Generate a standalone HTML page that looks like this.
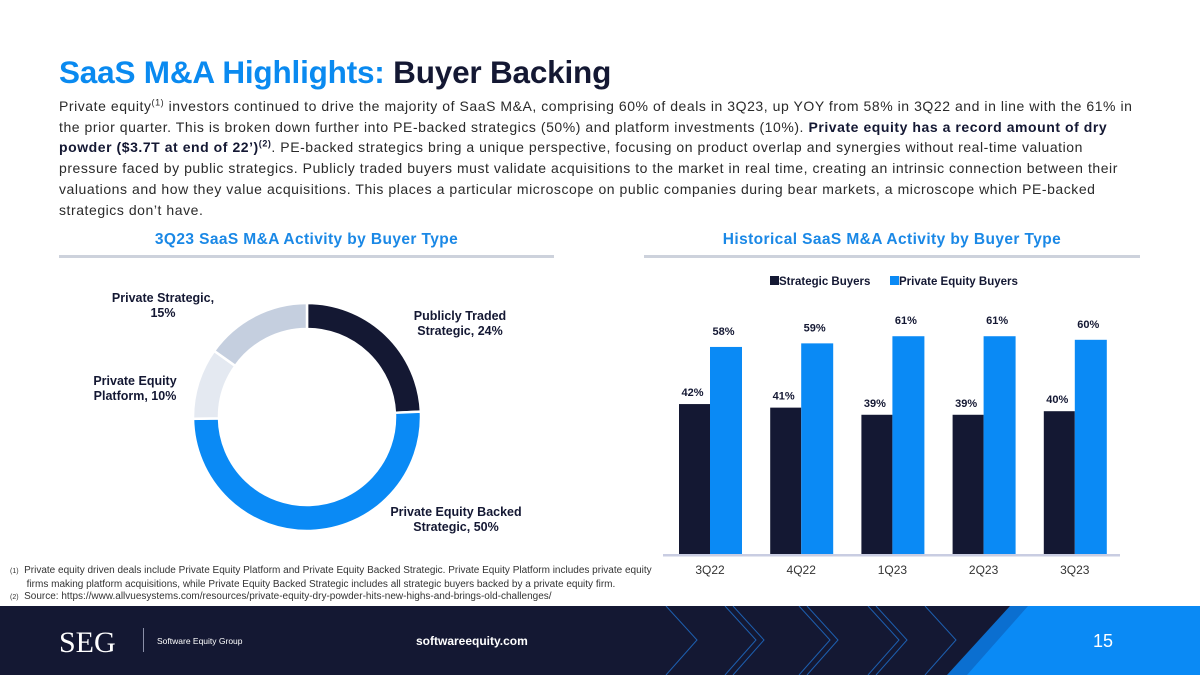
<!DOCTYPE html>
<html><head><meta charset="utf-8">
<style>
*{margin:0;padding:0;box-sizing:border-box}
body{width:1200px;height:675px;overflow:hidden;background:#fff;font-family:"Liberation Sans",Arial,sans-serif;position:relative;color:#141833}
.abs{position:absolute}
h1{position:absolute;left:59px;top:54px;font-size:31.5px;font-weight:bold;color:#0a8af0;letter-spacing:-0.2px;white-space:nowrap}
h1 span{color:#141833}
.body{position:absolute;left:59px;top:96px;width:1140px;font-size:14px;letter-spacing:0.55px;line-height:20.7px;color:#2a2a2a;white-space:nowrap}
.body sup{font-size:9px;line-height:0}
.sect{position:absolute;font-size:15.5px;letter-spacing:0.4px;font-weight:bold;color:#1a88e6;text-align:center}
.rule{position:absolute;height:3px;background:#cdd2dc}
.foot{position:absolute;left:10px;font-size:10px;color:#333;line-height:13px;white-space:nowrap}
</style></head><body>
<h1>SaaS M&amp;A Highlights: <span>Buyer Backing</span></h1>
<div class="body">Private equity<sup>(1)</sup> investors continued to drive the majority of SaaS M&amp;A, comprising 60% of deals in 3Q23, up YOY from 58% in 3Q22 and in line with the 61% in<br>the prior quarter. This is broken down further into PE-backed strategics (50%) and platform investments (10%). <b style="color:#141833">Private equity has a record amount of dry<br>powder ($3.7T at end of 22’)<sup>(2)</sup></b>. PE-backed strategics bring a unique perspective, focusing on product overlap and synergies without real-time valuation<br>pressure faced by public strategics. Publicly traded buyers must validate acquisitions to the market in real time, creating an intrinsic connection between their<br>valuations and how they value acquisitions. This places a particular microscope on public companies during bear markets, a microscope which PE-backed<br>strategics don’t have.</div>

<div class="sect" style="left:59px;width:495px;top:231px">3Q23 SaaS M&amp;A Activity by Buyer Type</div>
<div class="rule" style="left:59px;width:495px;top:255px"></div>
<div class="sect" style="left:644px;width:496px;top:231px">Historical SaaS M&amp;A Activity by Buyer Type</div>
<div class="rule" style="left:644px;width:496px;top:255px"></div>

<svg class="abs" style="left:0;top:0" width="1200" height="606">
<g id="donut"></g>
<g id="bars"></g>
</svg>

<div class="foot" style="top:564px"><span style="font-size:7px">(1)</span>&nbsp; Private equity driven deals include Private Equity Platform and Private Equity Backed Strategic. Private Equity Platform includes private equity<br>&nbsp;&nbsp;&nbsp;&nbsp;&nbsp; firms making platform acquisitions, while Private Equity Backed Strategic includes all strategic buyers backed by a private equity firm.</div>
<div class="foot" style="top:590px"><span style="font-size:7px">(2)</span>&nbsp; Source: https://www.allvuesystems.com/resources/private-equity-dry-powder-hits-new-highs-and-brings-old-challenges/</div>

<svg class="abs" style="left:0;top:606px" width="1200" height="69">
<rect width="1200" height="69" fill="#141833"/>
<g fill="none" stroke="#1d5fb0" stroke-width="1">
<polyline points="666,0 697,34 666,69"/>
<polyline points="725,0 756,34 725,69"/>
<polyline points="733,0 764,34 733,69"/>
<polyline points="799,0 830,34 799,69"/>
<polyline points="807,0 838,34 807,69"/>
<polyline points="868,0 899,34 868,69"/>
<polyline points="876,0 907,34 876,69"/>
<polyline points="925,0 956,34 925,69"/>
</g>
<polygon points="1010,0 1200,0 1200,69 947,69" fill="#0b6fd0"/>
<polygon points="1028,0 1200,0 1200,69 967,69" fill="#0a8af5"/>
<text x="59" y="46" font-family="Liberation Serif,serif" font-size="30" fill="#fff">SEG</text>
<rect x="143" y="22" width="1" height="24" fill="#8a8fa8"/>
<text x="157" y="38" font-size="8.5" fill="#fff">Software Equity Group</text>
<text x="416" y="39" font-size="12" font-weight="bold" fill="#fff">softwareequity.com</text>
<text x="1093" y="41" font-size="18" fill="#fff">15</text>
</svg>

<script>
const sliceLabels=["Publicly Traded Strategic, 24%","Private Equity Backed Strategic, 50%","Private Equity Platform, 10%","Private Strategic, 15%"];
const sliceValues=[24,50,10,15];
const categories=["3Q22","4Q22","1Q23","2Q23","3Q23"];
const strategicValues=[42,41,39,39,40];
const peValues=[58,59,61,61,60];

const NS="http://www.w3.org/2000/svg";
function mk(tag,attrs,parent){const e=document.createElementNS(NS,tag);for(const k in attrs)e.setAttribute(k,attrs[k]);parent.appendChild(e);return e;}

const dg=document.getElementById('donut');
const cx=307,cy=417,ro=114,ri=88;
const sliceColors=["#141833","#0a8af5","#e4e9f1","#c5cfdf"];
const total=sliceValues.reduce((a,b)=>a+b,0);
let acc=0;
function pt(r,a){return [cx+r*Math.sin(a),cy-r*Math.cos(a)];}
sliceValues.forEach((v,i)=>{
  const a0=acc/total*2*Math.PI,a1=(acc+v)/total*2*Math.PI;acc+=v;
  const large=(a1-a0)>Math.PI?1:0;
  const p0=pt(ro,a0),p1=pt(ro,a1),p2=pt(ri,a1),p3=pt(ri,a0);
  const p=mk('path',{d:`M${p0}A${ro},${ro} 0 ${large} 1 ${p1}L${p2}A${ri},${ri} 0 ${large} 0 ${p3}Z`,fill:sliceColors[i],stroke:"#fff","stroke-width":2.5},dg);
  
  
});
const labelPos=[[460,320],[456,516],[135,385],[163,302]];
sliceLabels.forEach((s,i)=>{
  let lines;
  if(i===0)lines=["Publicly Traded","Strategic, "+sliceValues[0]+"%"];
  else if(i===1)lines=["Private Equity Backed","Strategic, "+sliceValues[1]+"%"];
  else if(i===2)lines=["Private Equity","Platform, "+sliceValues[2]+"%"];
  else lines=["Private Strategic,",sliceValues[3]+"%"];
  const t=mk('text',{x:labelPos[i][0],y:labelPos[i][1],"text-anchor":"middle","font-family":"Liberation Sans,Arial,sans-serif","font-size":12.5,"font-weight":"bold",fill:"#141833"},dg);
  
  
  lines.forEach((l,j)=>{const ts=mk('tspan',{x:labelPos[i][0],dy:j?15:0},t);ts.textContent=l;});
});

const bg=document.getElementById('bars');
const base=554,scale=3.57,x0=679,pitch=91.2,bw=31;
function yv(v){return base-v*scale;}
function xc(i){return x0+i*pitch;}
categories.forEach((c,i)=>{
  const r1=mk('rect',{x:xc(i),y:yv(strategicValues[i]),width:bw,height:base-yv(strategicValues[i]),fill:"#141833"},bg);
  
  
  const r2=mk('rect',{x:xc(i)+bw,y:yv(peValues[i]),width:bw+1,height:base-yv(peValues[i]),fill:"#0a8af5"},bg);
  
  
  const t1=mk('text',{x:xc(i)+bw/2-2,y:yv(strategicValues[i])-8,"text-anchor":"middle","font-size":11,"font-weight":"bold",fill:"#141833"},bg);
  t1.textContent=strategicValues[i]+"%";
  
  
  const t2=mk('text',{x:xc(i)+bw*1.5-2,y:yv(peValues[i])-12,"text-anchor":"middle","font-size":11,"font-weight":"bold",fill:"#141833"},bg);
  t2.textContent=peValues[i]+"%";
  
  
  const t3=mk('text',{x:xc(i)+bw,y:574,"text-anchor":"middle","font-size":12,fill:"#333"},bg);
  t3.textContent=c;
  
  
});
const ax=mk('rect',{x:663,y:base,width:457,height:2.5,fill:"#c9cde2"},bg);


const l1=mk('rect',{x:770,y:276,width:9,height:9,fill:"#141833"},bg);


const lt1=mk('text',{x:779,y:285,"font-size":11.5,"font-weight":"bold",fill:"#141833"},bg);
lt1.textContent="Strategic Buyers";


const l2=mk('rect',{x:890,y:276,width:9,height:9,fill:"#0a8af5"},bg);


const lt2=mk('text',{x:899,y:285,"font-size":11.5,"font-weight":"bold",fill:"#141833"},bg);
lt2.textContent="Private Equity Buyers";


</script>
</body></html>
